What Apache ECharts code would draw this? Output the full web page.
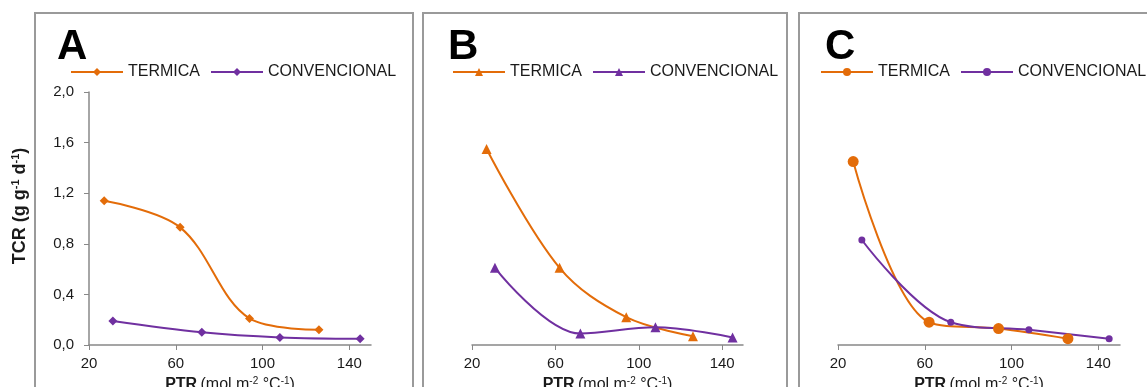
<!DOCTYPE html>
<html>
<head>
<meta charset="utf-8">
<script src="https://cdn.jsdelivr.net/npm/echarts@6/dist/echarts.min.js"></script>
<style>
  html, body { margin: 0; padding: 0; background: #fff; }
  #chart { width: 1147px; height: 387px; }
</style>
</head>
<body>
<div id="chart"></div>
<script>
// PTR (mol m-2 °C-1) de cada punto
const ptrTermica = [27, 62, 94, 126]
const ptrConvencional = [31, 72, 108, 145]

const tcrTermicaA = [1.14, 0.93, 0.21, 0.12]
const tcrConvencionalA = [0.19, 0.10, 0.06, 0.05]
const tcrTermicaB = [1.55, 0.61, 0.22, 0.07]
const tcrConvencionalB = [0.61, 0.09, 0.14, 0.06]
const tcrTermicaC = [1.45, 0.18, 0.13, 0.05]
const tcrConvencionalC = [0.83, 0.18, 0.12, 0.05]

const panelNames = ['A', 'B', 'C']
const xTicks = [20, 60, 100, 140]

const ORANGE = '#E36C09'
const PURPLE = '#7030A0'
const AXIS = '#888888'
const TEXT = '#1a1a1a'
const FONT = '"Liberation Sans", Arial, sans-serif'

// posición de cada panel (solo maqueta)
const layout = [
  { left: 89, width: 282, box: [35, 378], letter: 57, legend: 70,
    symT: 'diamond', sizeT: 9, symC: 'diamond', sizeC: 9 },
  { left: 472, width: 271, box: [423, 364], letter: 448, legend: 452,
    symT: 'triangle', sizeT: 10, symC: 'triangle', sizeC: 10 },
  { left: 838, width: 282, box: [799, 400], letter: 825, legend: 820,
    symT: 'circle', sizeT: 11, symC: 'circle', sizeC: 7 }
]
const termicaData = [tcrTermicaA, tcrTermicaB, tcrTermicaC]
const convencionalData = [tcrConvencionalA, tcrConvencionalB, tcrConvencionalC]

function pairs(xs, ys) {
  return xs.map((x, i) => [x, ys[i]])
}

const grid = []
const xAxis = []
const yAxis = []
const series = []
const legend = []
const graphic = []

layout.forEach((p, i) => {
  const tag = panelNames[i]
  grid.push({
    left: p.left,
    width: p.width,
    top: 92,
    bottom: 42,
    containLabel: false,
    outerBoundsMode: 'none'
  })
  xAxis.push({
    type: 'value',
    gridIndex: i,
    min: 20,
    max: 150,
    interval: 40,
    splitLine: { show: false },
    axisLine: { lineStyle: { color: AXIS, width: 1.5 } },
    axisTick: { length: 5, inside: false, customValues: xTicks, lineStyle: { color: AXIS } },
    axisLabel: {
      customValues: xTicks,
      margin: 11,
      color: TEXT,
      fontSize: 15,
      fontFamily: FONT
    },
    name: '{b|PTR} {n|(mol m}{s|-2}{n| °C}{s|-1}{n|)}',
    nameLocation: 'middle',
    nameGap: 27,
    nameTextStyle: {
      fontFamily: FONT,
      rich: {
        b: { fontWeight: 'bold', fontSize: 16, color: TEXT, fontFamily: FONT, lineHeight: 18 },
        n: { fontSize: 16, color: TEXT, fontFamily: FONT, lineHeight: 18 },
        s: { fontSize: 10, color: TEXT, fontFamily: FONT, verticalAlign: 'top', lineHeight: 10 }
      }
    }
  })
  yAxis.push({
    type: 'value',
    gridIndex: i,
    min: 0,
    max: 2,
    interval: 0.4,
    show: i === 0,
    splitLine: { show: false },
    axisLine: { show: true, lineStyle: { color: AXIS, width: 1.5 } },
    axisTick: { show: true, length: 5, lineStyle: { color: AXIS } },
    axisLabel: {
      margin: 15,
      color: TEXT,
      fontSize: 15,
      fontFamily: FONT,
      formatter: v => v.toFixed(1).replace('.', ',')
    }
  })
  series.push({
    name: 'TERMICA ' + tag,
    type: 'line',
    xAxisIndex: i,
    yAxisIndex: i,
    smooth: 0.35,
    symbol: p.symT,
    symbolSize: p.sizeT,
    color: ORANGE,
    lineStyle: { width: 2 },
    data: pairs(ptrTermica, termicaData[i])
  })
  series.push({
    name: 'CONVENCIONAL ' + tag,
    type: 'line',
    xAxisIndex: i,
    yAxisIndex: i,
    smooth: 0.35,
    symbol: p.symC,
    symbolSize: p.sizeC,
    color: PURPLE,
    lineStyle: { width: 2 },
    data: pairs(ptrConvencional, convencionalData[i])
  })
  legend.push({
    left: p.legend,
    top: 64,
    width: 420,
    padding: 0,
    itemWidth: 52,
    itemHeight: 10,
    itemGap: 10,
    selectedMode: false,
    textStyle: { fontSize: 16, color: TEXT, fontFamily: FONT },
    formatter: n => n.slice(0, n.lastIndexOf(' ')),
    data: ['TERMICA ' + tag, 'CONVENCIONAL ' + tag]
  })
  // marco gris del panel
  graphic.push({
    type: 'rect',
    shape: { x: p.box[0], y: 13, width: p.box[1], height: 420 },
    style: { fill: 'none', stroke: '#9a9a9a', lineWidth: 2 },
    silent: true
  })
  graphic.push({
    type: 'text',
    x: p.letter,
    y: 47,
    style: {
      text: tag,
      fontSize: 42,
      fontWeight: 'bold',
      fontFamily: FONT,
      fill: '#000',
      verticalAlign: 'middle'
    }
  })
})

// título del eje Y (solo en A)
graphic.push({
  type: 'text',
  x: 20,
  y: 206,
  rotation: Math.PI / 2,
  style: {
    text: '{b|TCR (g g}{s|-1}{b| d}{s|-1}{b|)}',
    align: 'center',
    verticalAlign: 'middle',
    rich: {
      b: { fontWeight: 'bold', fontSize: 18, fill: TEXT, fontFamily: FONT, lineHeight: 20 },
      s: { fontWeight: 'bold', fontSize: 11, fill: TEXT, fontFamily: FONT, verticalAlign: 'top', lineHeight: 11 }
    }
  }
})

const chart = echarts.init(document.getElementById('chart'), null, { renderer: 'canvas' })
chart.setOption({
  animation: false,
  backgroundColor: '#fff',
  grid,
  xAxis,
  yAxis,
  series,
  legend,
  graphic
})
</script>
</body>
</html>
